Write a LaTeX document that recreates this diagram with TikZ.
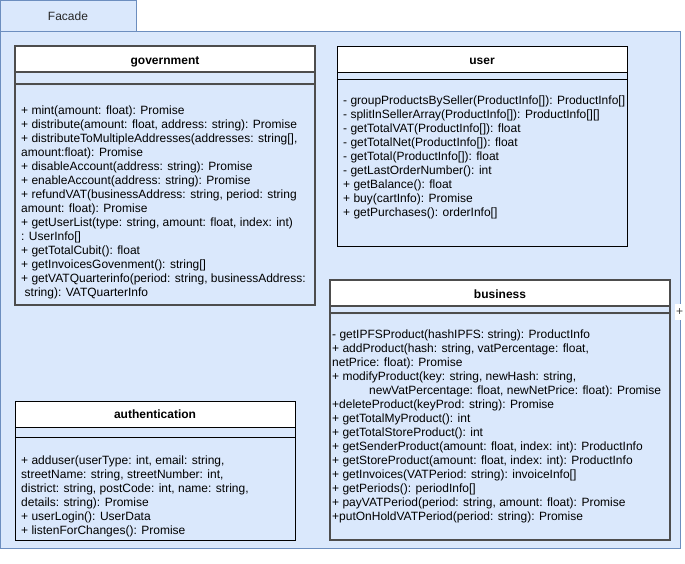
\documentclass[tikz,border=0pt]{standalone}
\usepackage{fontspec}
\setmainfont{Liberation Sans}
\usetikzlibrary{shadows}
\definecolor{pane}{HTML}{DAE8FC}
\definecolor{paneline}{HTML}{6C8EBF}
\definecolor{frameline}{HTML}{4D4D4D}

\tikzset{
  pane/.style={fill=pane, draw=paneline, line width=1pt},
  classbox/.style={fill=pane, draw=black, line width=1pt},
  raisedbox/.style={fill=pane, draw=frameline, line width=1.2pt,
    drop shadow={shadow xshift=1.2pt, shadow yshift=-1.2pt, opacity=0.35}},
  member/.style={anchor=base west, inner sep=0pt, font=\fontsize{12}{14}\selectfont},
  classtitle/.style={anchor=base, inner sep=0pt, font=\fontsize{12}{14}\selectfont\bfseries},
  tabtitle/.style={anchor=base, inner sep=0pt, font=\fontsize{12}{14}\selectfont, text=black!85},
}

% \classframe{style}{x1}{y1}{x2}{y2}{header bottom}{attribute bottom}
\newcommand\classframe[7]{%
  \draw[#1] (#2,#3) rectangle (#4,#5);
  \draw[#1, fill=white, drop shadow={opacity=0}] (#2,#3) rectangle (#4,#6);
  \draw[#1, fill=none] (#2,#7) -- (#4,#7);
}

\begin{document}
\begin{tikzpicture}[x=1pt, y=-1pt]
\useasboundingbox (0,0) rectangle (685,563);

% package tab and body
\draw[pane] (0.5,0.5) rectangle (136,31.5);
\node[tabtitle] (facade) at (68,20) {Facade};
\draw[pane] (0.5,31.5) rectangle (680,548);

% expand marker on the right border
\fill[white] (675,304) rectangle (685,320);
\node[inner sep=0pt, font=\fontsize{12}{14}\selectfont, text=black!75] (expander) at (679.5,312) {+};

% government
\classframe{raisedbox}{15}{46}{315}{305}{72}{84}
\node[classtitle] (govtitle) at (165,64) {government};
\foreach \y/\t [count=\i] in {
  110/{+ mint(amount: float): Promise},
  124/{+ distribute(amount: float, address: string): Promise},
  138/{+ distributeToMultipleAddresses(addresses: string[],},
  152/{amount:float): Promise},
  166/{+ disableAccount(address: string): Promise},
  180/{+ enableAccount(address: string): Promise},
  194/{+ refundVAT(businessAddress: string, period: string},
  208/{amount: float): Promise},
  222/{+ getUserList(type: string, amount: float, index: int)},
  236/{: UserInfo[]},
  250/{+ getTotalCubit(): float},
  264/{+ getInvoicesGovenment(): string[]},
  278/{+ getVATQuarterinfo(period: string, businessAddress:}}
  \node[member, name=gov\i] at (21,\y+4) {\t};
\node[member] (gov14) at (24.5,296) {string): VATQuarterInfo};

% user
\classframe{classbox}{337}{46}{627}{246}{72}{79}
\node[classtitle] (usertitle) at (482,64) {user};
\foreach \y/\t [count=\i] in {
  100/{- groupProductsBySeller(ProductInfo[]): ProductInfo[]},
  114/{- splitInSellerArray(ProductInfo[]): ProductInfo[][]},
  128/{- getTotalVAT(ProductInfo[]): float},
  142/{- getTotalNet(ProductInfo[]): float},
  156/{- getTotal(ProductInfo[]): float},
  170/{- getLastOrderNumber(): int},
  184/{+ getBalance(): float},
  198/{+ buy(cartInfo): Promise},
  212/{+ getPurchases(): orderInfo[]}}
  \node[member, name=user\i] at (343,\y+4) {\t};

% business
\classframe{raisedbox}{330}{280}{670}{540}{306}{313}
\node[classtitle] (bustitle) at (500,298) {business};
\foreach \y/\t [count=\i] in {
  334/{- getIPFSProduct(hashIPFS: string): ProductInfo},
  348/{+ addProduct(hash: string, vatPercentage: float,},
  362/{netPrice: float): Promise},
  376/{+ modifyProduct(key: string, newHash: string,},
  404/{+deleteProduct(keyProd: string): Promise},
  418/{+ getTotalMyProduct(): int},
  432/{+ getTotalStoreProduct(): int},
  446/{+ getSenderProduct(amount: float, index: int): ProductInfo},
  460/{+ getStoreProduct(amount: float, index: int): ProductInfo},
  474/{+ getInvoices(VATPeriod: string): invoiceInfo[]},
  488/{+ getPeriods(): periodInfo[]},
  502/{+ payVATPeriod(period: string, amount: float): Promise},
  516/{+putOnHoldVATPeriod(period: string): Promise}}
  \node[member, name=bus\i] at (332,\y+4) {\t};
\node[member] (bus14) at (369,394) {newVatPercentage: float, newNetPrice: float): Promise};

% authentication
\classframe{classbox}{15}{401}{295}{540}{427}{437}
\node[classtitle] (authtitle) at (155,418) {authentication};
\foreach \y/\t [count=\i] in {
  460/{+ adduser(userType: int, email: string,},
  474/{streetName: string, streetNumber: int,},
  488/{district: string, postCode: int, name: string,},
  502/{details: string): Promise},
  516/{+ userLogin(): UserData},
  530/{+ listenForChanges(): Promise}}
  \node[member, name=auth\i] at (21,\y+4) {\t};
\end{tikzpicture}
\end{document}
